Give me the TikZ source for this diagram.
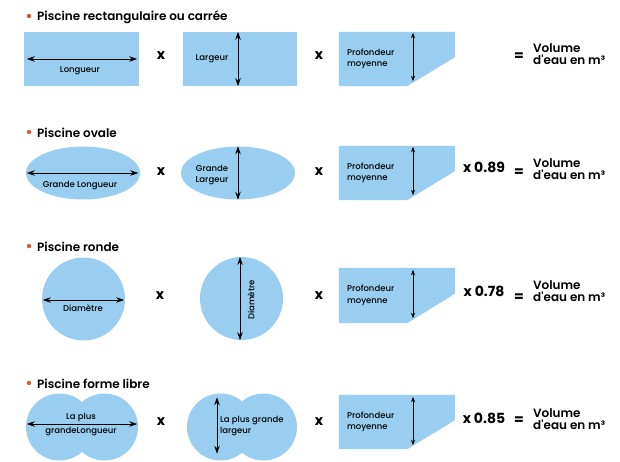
\documentclass[tikz,border=0pt]{standalone}
\usepackage{fontspec}
\setmainfont{Poppins}
\newfontfamily\medfont{Poppins Medium}
\newfontfamily\semifont{Poppins SemiBold}
\usepackage{tikz}
\usetikzlibrary{arrows.meta,shapes.geometric,positioning}
\definecolor{poolblue}{RGB}{153,206,240}
\definecolor{dotorange}{RGB}{220,90,50}
\tikzstyle{dimarrow} = [line width=0.8pt,{Stealth[length=8pt,width=5.5pt]}-{Stealth[length=8pt,width=5.5pt]}]
\tikzstyle{deptharrow} = [line width=0.6pt,{Stealth[length=5.5pt,width=4pt]}-{Stealth[length=5.5pt,width=4pt]}]
\tikzstyle{pool} = [fill=poolblue, draw=none, inner sep=0pt]
\tikzstyle{depthbox} = [rectangle, minimum width=116pt, minimum height=54pt, inner sep=0pt]
\tikzstyle{bullet} = [circle, fill=dotorange, minimum size=4.4pt, inner sep=0pt]
\tikzstyle{title} = [anchor=west, inner sep=0pt, font=\semifont\fontsize{12}{12}\selectfont]
\tikzstyle{lbl} = [inner sep=0pt, align=center, font=\medfont\fontsize{8.5}{11.5}\selectfont]
\tikzstyle{times} = [inner sep=0pt, font=\bfseries\fontsize{14}{14}\selectfont]
\tikzstyle{result} = [anchor=west, inner sep=0pt, align=left, font=\semifont\fontsize{12}{12}\selectfont]

\begin{document}
\begin{tikzpicture}[x=1pt, y=-1pt]
\useasboundingbox (0,0) rectangle (620,462);

% Row 1: rectangle
\node (b1) [bullet] at (29,16) {};
\node (t1) [title] at (37,17) {Piscine rectangulaire ou carrée};
\node (r1) [pool, rectangle, minimum width=115pt, minimum height=54pt] at (81.5,59) {};
\draw[dimarrow] ([xshift=3pt]r1.west) -- ([xshift=-2pt]r1.east);
\node (l1) [lbl] at (80,71) {Longueur};
\node (x11) [times] at (161,56) {x};
\node (r2) [pool, rectangle, minimum width=114pt, minimum height=54pt] at (240,59) {};
\draw[dimarrow] ([xshift=-2pt]r2.north) -- ([xshift=-2pt]r2.south);
\node (l2) [lbl] at (212,59) {Largeur};
\node (x12) [times] at (319,56) {x};
\node (p1) [depthbox] at (397,59) {};
\fill[poolblue] (p1.north west) -- (p1.north east) -- ([yshift=2pt]p1.east) -- ([xshift=-48pt]p1.south east) -- (p1.south west) -- cycle;
\draw[deptharrow] ([xshift=16pt,yshift=-1pt]p1.north) -- ([xshift=16pt,yshift=5pt]p1.south);
\node (lp1) [lbl, anchor=west, align=left] at ([xshift=8pt]p1.west) {Profondeur\\moyenne};
\node (e1) [times] at (519,57) {=};
\node (v1) [result] at (533,54) {Volume\\d'eau en m³};

% Row 2: oval
\node (b2) [bullet] at (29,132) {};
\node (t2) [title] at (37,133) {Piscine ovale};
\node (o1) [pool, ellipse, minimum width=114pt, minimum height=53pt] at (83,173) {};
\draw[dimarrow] ([xshift=1pt]o1.west) -- ([xshift=-2pt]o1.east);
\node (l3) [lbl] at (80,186) {Grande Longueur};
\node (x21) [times] at (161,172) {x};
\node (o2) [pool, ellipse, minimum width=114pt, minimum height=53pt] at (238,173) {};
\draw[dimarrow] (o2.north) -- (o2.south);
\node (l4) [lbl] at (212,175) {Grande\\Largeur};
\node (x22) [times] at (319,172) {x};
\node (p2) [depthbox] at (397,173) {};
\fill[poolblue] (p2.north west) -- (p2.north east) -- ([yshift=2pt]p2.east) -- ([xshift=-48pt]p2.south east) -- (p2.south west) -- cycle;
\draw[deptharrow] ([xshift=16pt,yshift=-1pt]p2.north) -- ([xshift=16pt,yshift=5pt]p2.south);
\node (lp2) [lbl, anchor=west, align=left] at ([xshift=8pt]p2.west) {Profondeur\\moyenne};
\node (k2) [times] at (484,167) {x 0.89};
\node (e2) [times] at (519,173) {=};
\node (v2) [result] at (533,169) {Volume\\d'eau en m³};

% Row 3: round
\node (b3) [bullet] at (29,246) {};
\node (t3) [title] at (37,247) {Piscine ronde};
\node (c1) [pool, circle, minimum size=83pt] at (83.5,299) {};
\draw[dimarrow] ([xshift=1pt,yshift=-1pt]c1.west) -- ([xshift=-1pt,yshift=-1pt]c1.east);
\node (l5) [lbl] at (83,308) {Diamètre};
\node (x31) [times] at (160,296) {x};
\node (c2) [pool, circle, minimum size=83pt] at (241.5,298.5) {};
\draw[dimarrow] ([xshift=-1.5pt]c2.north) -- ([xshift=-1.5pt]c2.south);
\node (l6) [lbl, rotate=90] at (251,300) {Diamètre};
\node (x32) [times] at (319,296) {x};
\node (p3) [depthbox, minimum height=55pt] at (397,295.5) {};
\fill[poolblue] (p3.north west) -- (p3.north east) -- ([yshift=2pt]p3.east) -- ([xshift=-48pt]p3.south east) -- (p3.south west) -- cycle;
\draw[deptharrow] ([xshift=16pt,yshift=-2pt]p3.north) -- ([xshift=16pt,yshift=5pt]p3.south);
\node (lp3) [lbl, anchor=west, align=left] at ([xshift=8pt]p3.west) {Profondeur\\moyenne};
\node (k3) [times] at (484,291) {x 0.78};
\node (e3) [times] at (519,298) {=};
\node (v3) [result] at (533,291) {Volume\\d'eau en m³};

% Row 4: free form
\node (b4) [bullet] at (29,383) {};
\node (t4) [title] at (37,384) {Piscine forme libre};
\node (f1a) [pool, circle, minimum size=67pt] at (59.5,427) {};
\node (f1b) [pool, circle, minimum size=67pt] at (104.5,427) {};
\draw[dimarrow] ([xshift=1pt,yshift=3pt]f1a.west) -- ([xshift=-1pt,yshift=3pt]f1b.east);
\node (l7) [lbl, font=\medfont\fontsize{8.5}{14}\selectfont] at (81,425) {La plus\\grandeLongueur};
\node (x41) [times] at (161,422) {x};
\node (f2a) [pool, circle, minimum size=67pt] at (220.5,427) {};
\node (f2b) [pool, circle, minimum size=67pt] at (263.5,427) {};
\draw[dimarrow] ([xshift=-3.5pt,yshift=-4pt]f2a.north) -- ([xshift=-3.5pt,yshift=7pt]f2a.south);
\node (l8) [lbl, anchor=west, align=left] at (220,426) {La plus grande\\largeur};
\node (x42) [times] at (319,422) {x};
\node (p4) [depthbox] at (397,422) {};
\fill[poolblue] (p4.north west) -- (p4.north east) -- ([yshift=2pt]p4.east) -- ([xshift=-48pt]p4.south east) -- (p4.south west) -- cycle;
\draw[deptharrow] ([xshift=16pt,yshift=-2pt]p4.north) -- ([xshift=16pt,yshift=4pt]p4.south);
\node (lp4) [lbl, anchor=west, align=left] at ([xshift=8pt]p4.west) {Profondeur\\moyenne};
\node (k4) [times] at (484,418) {x 0.85};
\node (e4) [times] at (519,421) {=};
\node (v4) [result] at (533,419) {Volume\\d'eau en m³};
\end{tikzpicture}
\end{document}
